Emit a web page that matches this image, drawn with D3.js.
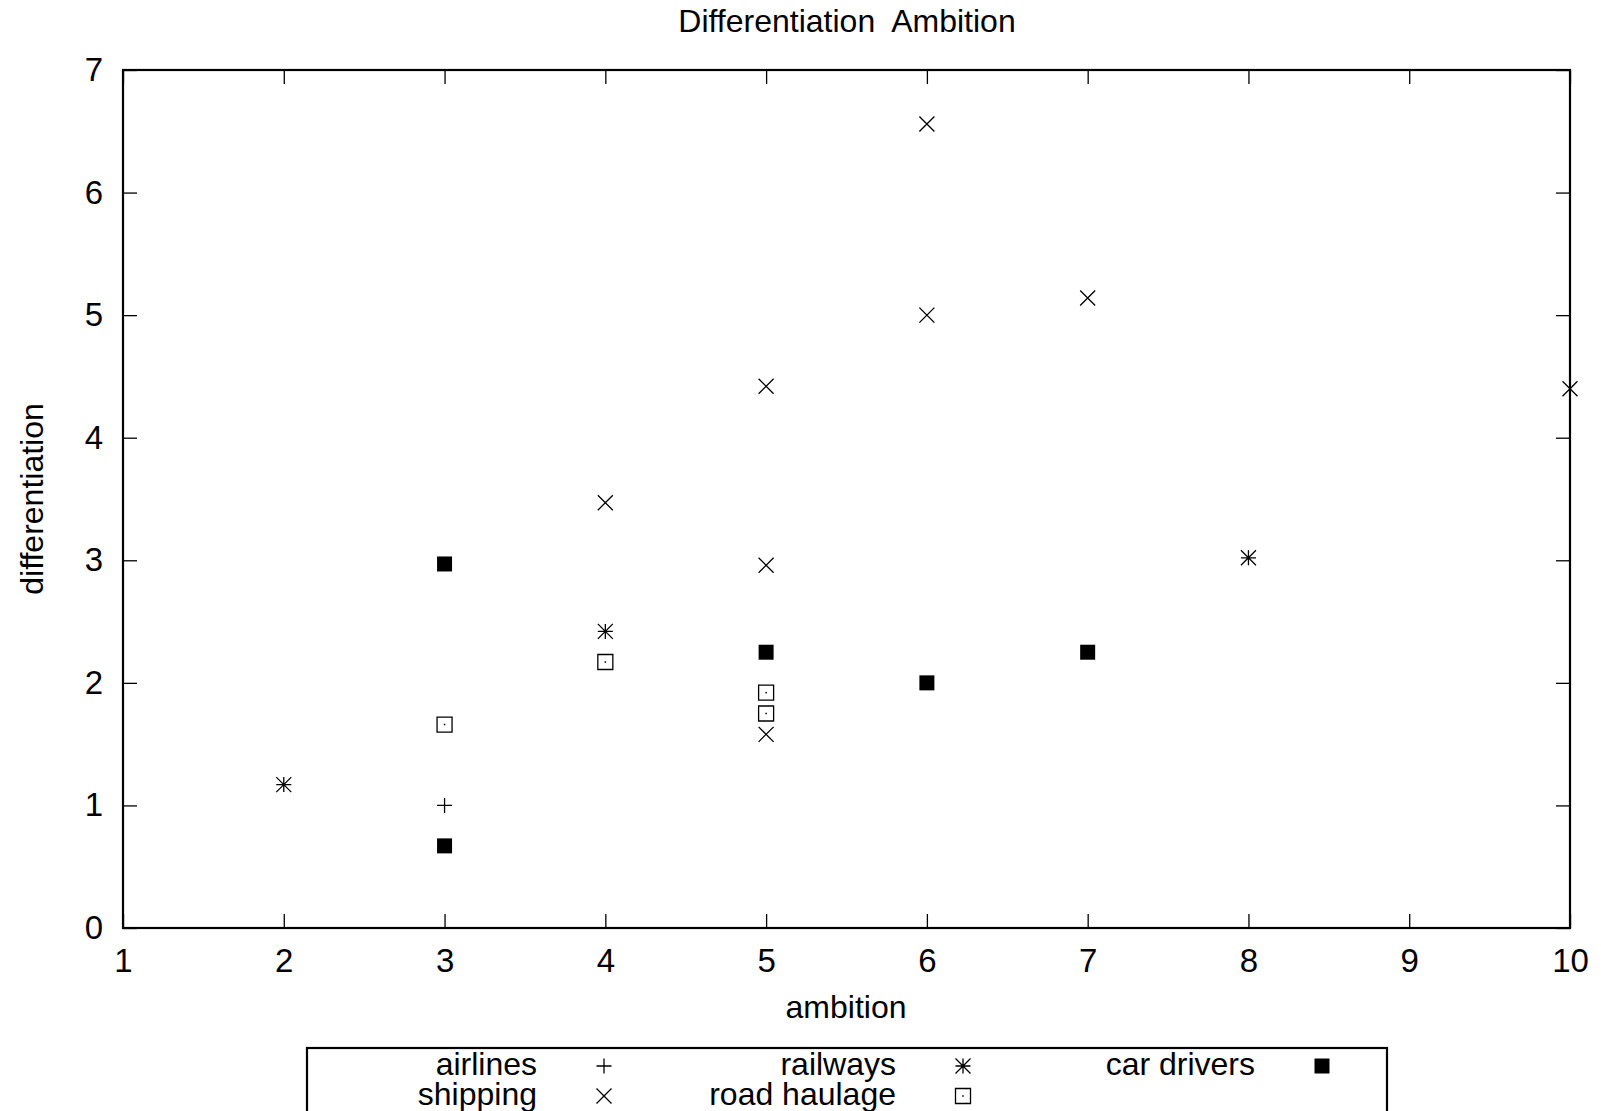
<!DOCTYPE html>
<html>
<head>
<meta charset="utf-8">
<script src="https://cdn.jsdelivr.net/npm/d3@7"></script>
<style>
  html, body { margin: 0; padding: 0; background: #fff; }
  svg { display: block; font-family: "Liberation Sans", Arial, sans-serif; }
</style>
</head>
<body>
<svg id="chart" width="1601" height="1111"></svg>
<script>
// series, in legend order (row by row)
const seriesNames = ['airlines', 'railways', 'car drivers', 'shipping', 'road haulage'];
const seriesSymbols = ['plus', 'star', 'boxFilled', 'cross', 'boxOpen'];

const airlines = [[3, 1.0]];
const railways = [[2, 1.17], [4, 2.42], [8, 3.02]];
const carDrivers = [[3, 2.97], [3, 0.67], [5, 2.25], [6, 2.0], [7, 2.25]];
const shipping = [[6, 6.56], [6, 5.0], [7, 5.14], [5, 4.42], [10, 4.40], [4, 3.47], [5, 2.96], [5, 1.58]];
const roadHaulage = [[3, 1.66], [4, 2.17], [5, 1.92], [5, 1.75]];

const seriesData = [airlines, railways, carDrivers, shipping, roadHaulage];

const xTicks = [1, 2, 3, 4, 5, 6, 7, 8, 9, 10];
const yTicks = [0, 1, 2, 3, 4, 5, 6, 7];

const margin = { left: 123, right: 1570, top: 70, bottom: 928 };

const svg = d3.select('#chart');

const x = d3.scaleLinear().domain([1, 10]).range([margin.left, margin.right]);
const y = d3.scaleLinear().domain([0, 7]).range([margin.bottom, margin.top]);

// gnuplot-like point types
const half = 7.5;
const symbolTypes = {
  plus: { draw(ctx) { ctx.moveTo(-half, 0); ctx.lineTo(half, 0); ctx.moveTo(0, -half); ctx.lineTo(0, half); } },
  cross: { draw(ctx) { ctx.moveTo(-half, -half); ctx.lineTo(half, half); ctx.moveTo(-half, half); ctx.lineTo(half, -half); } },
  star: { draw(ctx) {
    ctx.moveTo(-half, 0); ctx.lineTo(half, 0); ctx.moveTo(0, -half); ctx.lineTo(0, half);
    ctx.moveTo(-half, -half); ctx.lineTo(half, half); ctx.moveTo(-half, half); ctx.lineTo(half, -half);
  } },
  boxOpen: { draw(ctx) {
    ctx.moveTo(-half, -half); ctx.lineTo(half, -half); ctx.lineTo(half, half); ctx.lineTo(-half, half); ctx.closePath();
  } },
  boxFilled: { draw(ctx) {
    ctx.moveTo(-half, -half); ctx.lineTo(half, -half); ctx.lineTo(half, half); ctx.lineTo(-half, half); ctx.closePath();
  } }
};

function drawMarker(g, type) {
  const p = d3.symbol().type(symbolTypes[type])();
  if (type === 'boxFilled') {
    g.append('path').attr('d', p).attr('fill', '#000');
  } else if (type === 'boxOpen') {
    g.append('path').attr('d', p).attr('fill', 'none').attr('stroke', '#000').attr('stroke-width', 1.3);
    g.append('rect').attr('x', -0.75).attr('y', -0.75).attr('width', 1.5).attr('height', 1.5).attr('fill', '#000');
  } else {
    g.append('path').attr('d', p).attr('fill', 'none').attr('stroke', '#000').attr('stroke-width', 1.3);
  }
}

// axes with inward ticks on all four sides
const tickLen = 14;
const axisG = svg.append('g');

axisG.append('g')
  .attr('transform', `translate(0,${margin.bottom})`)
  .call(d3.axisBottom(x).tickValues(xTicks).tickSizeInner(-tickLen).tickSizeOuter(0).tickPadding(21).tickFormat(d3.format('d')));
axisG.append('g')
  .attr('transform', `translate(0,${margin.top})`)
  .call(d3.axisTop(x).tickValues(xTicks).tickSizeInner(-tickLen).tickSizeOuter(0).tickFormat(''));
axisG.append('g')
  .attr('transform', `translate(${margin.left},0)`)
  .call(d3.axisLeft(y).tickValues(yTicks).tickSizeInner(-tickLen).tickSizeOuter(0).tickPadding(20).tickFormat(d3.format('d')));
axisG.append('g')
  .attr('transform', `translate(${margin.right},0)`)
  .call(d3.axisRight(y).tickValues(yTicks).tickSizeInner(-tickLen).tickSizeOuter(0).tickFormat(''));

axisG.selectAll('.domain').remove();
axisG.selectAll('.tick line').attr('stroke', '#000').attr('stroke-width', 1.3);
axisG.selectAll('.tick text').attr('font-size', 33).attr('fill', '#000')
  .attr('font-family', '"Liberation Sans", Arial, sans-serif');

svg.append('rect')
  .attr('x', margin.left).attr('y', margin.top)
  .attr('width', margin.right - margin.left).attr('height', margin.bottom - margin.top)
  .attr('fill', 'none').attr('stroke', '#000').attr('stroke-width', 2.2);

// title & axis labels
svg.append('text').attr('x', 847).attr('y', 32).attr('text-anchor', 'middle')
  .attr('font-size', 32).style('white-space', 'pre').text('Differentiation  Ambition');
svg.append('text').attr('x', 846).attr('y', 1018).attr('text-anchor', 'middle')
  .attr('font-size', 32).text('ambition');
svg.append('text').attr('transform', 'translate(43,499) rotate(-90)').attr('text-anchor', 'middle')
  .attr('font-size', 32).text('differentiation');

// points
const pts = svg.append('g');
seriesData.forEach((data, i) => {
  pts.selectAll(null)
    .data(data)
    .join('g')
    .attr('transform', d => `translate(${x(d[0])},${y(d[1])})`)
    .each(function () { drawMarker(d3.select(this), seriesSymbols[i]); });
});

// legend
const legendLeft = 307, legendTop = 1048, legendRight = 1387;
svg.append('rect').attr('x', legendLeft).attr('y', legendTop)
  .attr('width', legendRight - legendLeft).attr('height', 90)
  .attr('fill', 'none').attr('stroke', '#000').attr('stroke-width', 2.2);

const colW = 359, rowH = 30;
seriesNames.forEach((name, i) => {
  const col = i % 3, row = Math.floor(i / 3);
  const base = 1075 + row * rowH;
  svg.append('text').attr('x', 537 + col * colW).attr('y', base).attr('text-anchor', 'end')
    .attr('font-size', 32).text(name);
  const g = svg.append('g').attr('transform', `translate(${604 + col * colW},${base - 9})`);
  drawMarker(g, seriesSymbols[i]);
});
</script>
</body>
</html>
